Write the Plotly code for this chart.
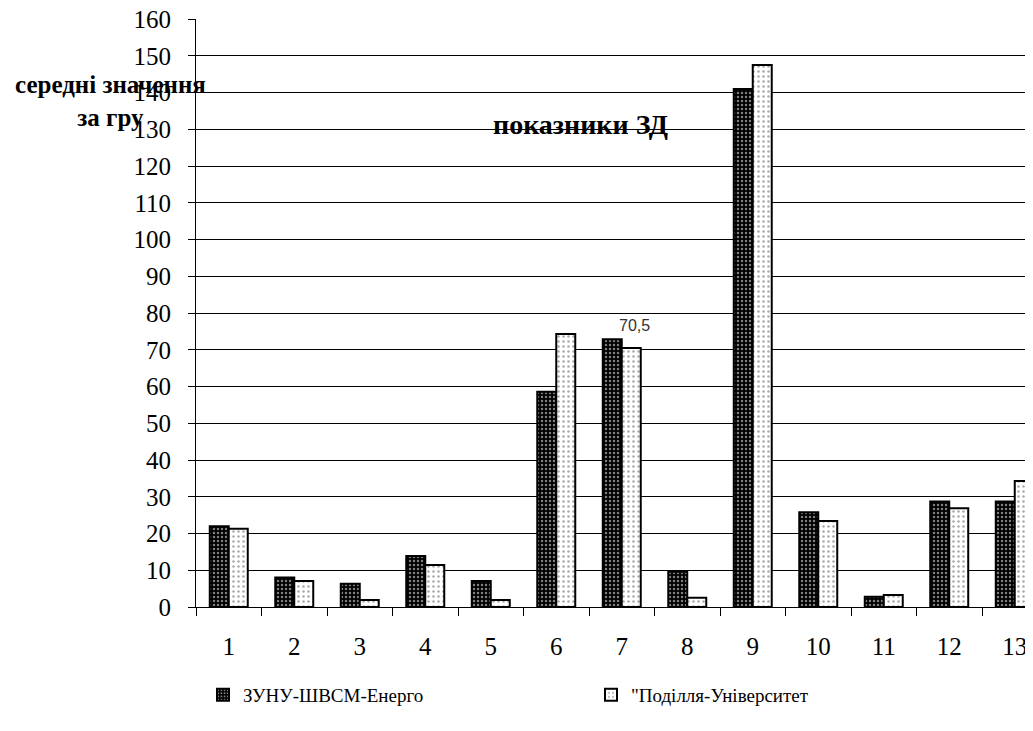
import plotly.graph_objects as go

categories = [str(i) for i in range(1, 14)]
series_names = ["ЗУНУ-ШВСМ-Енерго", "\"Поділля-Університет"]
zunu = [22.0, 8.0, 6.3, 13.9, 7.1, 58.6, 72.9, 9.6, 141.0, 25.8, 2.8, 28.7, 28.7]
podillya = [21.3, 7.1, 1.9, 11.4, 1.9, 74.3, 70.5, 2.5, 147.5, 23.4, 3.3, 26.9, 34.3]
y_ticks = list(range(0, 161, 10))
label_index = 6
label_value = 70.5
label_text = "70,5"

SERIF = "Times New Roman, Tinos, Liberation Serif, DejaVu Serif"
W, H = 1025, 723
OFF = 8  # browser page margin

fig = go.Figure()
fig.add_trace(go.Bar(
    x=categories, y=zunu, name=series_names[0],
    marker=dict(color="black", line=dict(color="black", width=2),
                pattern=dict(shape=".", bgcolor="black", fgcolor="white",
                             size=4, solidity=0.3)),
))
fig.add_trace(go.Bar(
    x=categories, y=podillya, name=series_names[1],
    marker=dict(color="white", line=dict(color="black", width=2),
                pattern=dict(shape=".", bgcolor="white", fgcolor="#555555",
                             size=5, solidity=0.2)),
))

fig.add_annotation(x=label_index, y=label_value, text=label_text,
                   xref="x", yref="y", xshift=13, yshift=12,
                   yanchor="bottom", showarrow=False,
                   font=dict(family="Liberation Sans", size=16, color="#333333"))

fig.add_annotation(text="середні значення<br>за гру", xref="paper", yref="paper",
                   x=(110 - 196) / 837, y=1 - (101 - 19) / 588, showarrow=False,
                   align="center", xanchor="center", yanchor="middle",
                   font=dict(family=SERIF, size=25, color="black", weight="bold"))
fig.add_annotation(text="показники ЗД", xref="paper", yref="paper",
                   x=(580 - 196) / 837, y=1 - (124 - 19) / 588, showarrow=False,
                   xanchor="center", yanchor="middle",
                   font=dict(family=SERIF, size=28, color="black", weight="bold"))

fig.update_layout(
    width=W, height=H,
    margin=dict(l=196 - OFF, r=0, t=19 - OFF, b=H - (607 - OFF), autoexpand=False),
    paper_bgcolor="white", plot_bgcolor="white",
    barmode="group", bargap=0.42, bargroupgap=0,
    font=dict(family=SERIF, size=24, color="black"),
    showlegend=True,
    legend=dict(orientation="h", xref="container", yref="container",
                x=(203 - OFF) / W, y=1 - (695 - OFF) / H, xanchor="left", yanchor="middle",
                entrywidth=343, entrywidthmode="pixels",
                font=dict(family=SERIF, size=19, color="black"),
                traceorder="normal"),
    xaxis=dict(type="category", range=[-0.5, -0.5 + 837 / 65.5], automargin=False,
               tickson="boundaries", ticks="outside", ticklen=8,
               tickcolor="black", showline=True, linecolor="black", linewidth=1,
               showgrid=False, tickfont=dict(family=SERIF, size=25),
               ticklabelstandoff=17, ticklabeloverflow="allow"),
    yaxis=dict(range=[0, 160.05], tickvals=y_ticks, ticks="outside", ticklen=7,
               automargin=False, ticklabeloverflow="allow",
               tickcolor="black", showline=True, linecolor="black", linewidth=1,
               showgrid=True, gridcolor="black", gridwidth=1, zeroline=False,
               tickfont=dict(family=SERIF, size=25), ticklabelstandoff=12),
)

fig.write_html("out.html")
